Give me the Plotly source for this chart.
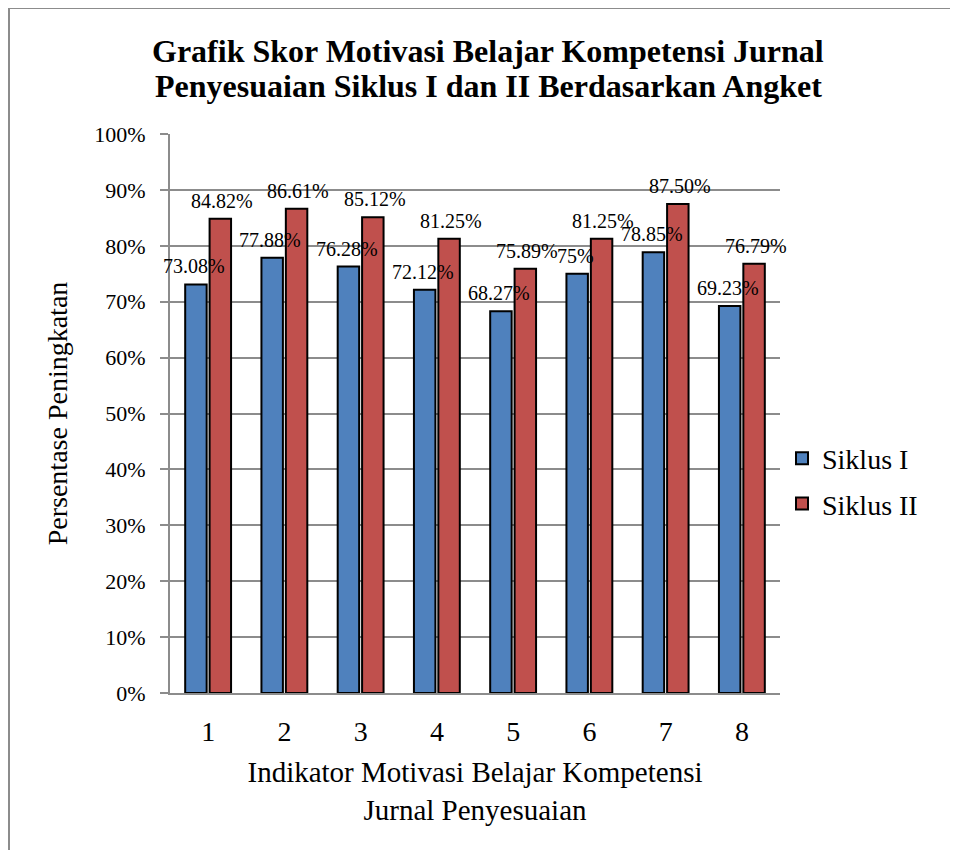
import plotly.graph_objects as go

categories = ["1", "2", "3", "4", "5", "6", "7", "8"]
siklus1 = [73.08, 77.88, 76.28, 72.12, 68.27, 75.00, 78.85, 69.23]
siklus2 = [84.82, 86.61, 85.12, 81.25, 75.89, 81.25, 87.50, 76.79]
labels1 = ["73.08%", "77.88%", "76.28%", "72.12%", "68.27%", "75%", "78.85%", "69.23%"]
labels2 = ["84.82%", "86.61%", "85.12%", "81.25%", "75.89%", "81.25%", "87.50%", "76.79%"]
ytickvals = [0, 10, 20, 30, 40, 50, 60, 70, 80, 90, 100]
yticktext = ["0%", "10%", "20%", "30%", "40%", "50%", "60%", "70%", "80%", "90%", "100%"]
title_lines = ["Grafik Skor Motivasi Belajar Kompetensi Jurnal",
               "Penyesuaian Siklus I dan II Berdasarkan Angket"]

FONT = "Liberation Serif, Times New Roman, serif"
OFF = 8  # page body margin
W, H = 958 - OFF, 850 - OFF
L, R, T, B = 170 - OFF, 178, 134 - OFF, 157

fig = go.Figure()
fig.add_trace(go.Bar(
    name="Siklus I", x=categories, y=siklus1, legendgroup="a",
    marker=dict(color="#4f81bd", line=dict(color="#000000", width=2)),
))
fig.add_trace(go.Bar(
    name="Siklus II", x=categories, y=siklus2, legendgroup="b",
    marker=dict(color="#c0504d", line=dict(color="#000000", width=2)),
))

pw = W - L - R
ph = H - T - B
def px(x):
    return (x - OFF - L) / pw
def py(y):
    return (H - B - (y - OFF)) / ph

annotations = []
for i, (v, t) in enumerate(zip(siklus1, labels1)):
    annotations.append(dict(x=i, y=v, xref="x", yref="y", text=t, showarrow=False,
                            xshift=-14, yshift=5, yanchor="bottom", xanchor="center",
                            font=dict(family=FONT, size=20, color="#000000")))
for i, (v, t) in enumerate(zip(siklus2, labels2)):
    annotations.append(dict(x=i, y=v, xref="x", yref="y", text=t, showarrow=False,
                            xshift=14, yshift=5, yanchor="bottom", xanchor="center",
                            font=dict(family=FONT, size=20, color="#000000")))
for line, yc in zip(title_lines, [51, 86]):
    annotations.append(dict(x=px(488), y=py(yc), xref="paper", yref="paper",
                            text="<b>" + line + "</b>", showarrow=False,
                            xanchor="center", yanchor="middle",
                            font=dict(family=FONT, size=32, color="#000000")))

fig.update_layout(
    width=W, height=H,
    margin=dict(l=L, r=R, t=T, b=B),
    paper_bgcolor="white", plot_bgcolor="white",
    font=dict(family=FONT, color="#000000"),
    barmode="group", bargap=0.36, bargroupgap=0.12,
    legend=dict(
        x=px(782), xanchor="left", y=py(481), yanchor="middle",
        font=dict(family=FONT, size=28, color="#000000"),
        tracegroupgap=6, itemsizing="constant",
        bgcolor="rgba(0,0,0,0)",
    ),
    xaxis=dict(
        type="category", range=[-0.5, 7.5],
        showgrid=False, showline=True, linecolor="#8c8c8c", linewidth=2,
        ticks="", tickfont=dict(family=FONT, size=28, color="#000000"),
        ticklabelstandoff=12,
        title=dict(text="Indikator Motivasi Belajar Kompetensi<br>Jurnal Penyesuaian",
                   font=dict(family=FONT, size=29, color="#000000"), standoff=16),
    ),
    yaxis=dict(
        range=[0, 100], tickvals=ytickvals, ticktext=yticktext,
        showgrid=True, gridcolor="#8c8c8c", gridwidth=1.5,
        showline=True, linecolor="#8c8c8c", linewidth=2,
        ticks="outside", ticklen=8, tickcolor="#8c8c8c", tickwidth=1.5,
        tickfont=dict(family=FONT, size=22, color="#000000"),
        ticklabelstandoff=10,
        zeroline=False,
        title=dict(text="Persentase Peningkatan",
                   font=dict(family=FONT, size=28, color="#000000"), standoff=18),
    ),
    annotations=annotations,
    shapes=[
        dict(type="line", xref="paper", yref="paper",
             x0=px(9), x1=px(9), y0=py(8), y1=py(860),
             line=dict(color="#8c8c8c", width=2)),
        dict(type="line", xref="paper", yref="paper",
             x0=px(9), x1=px(970), y0=py(8), y1=py(8),
             line=dict(color="#8c8c8c", width=2)),
    ],
)

fig.write_html("out.html")
